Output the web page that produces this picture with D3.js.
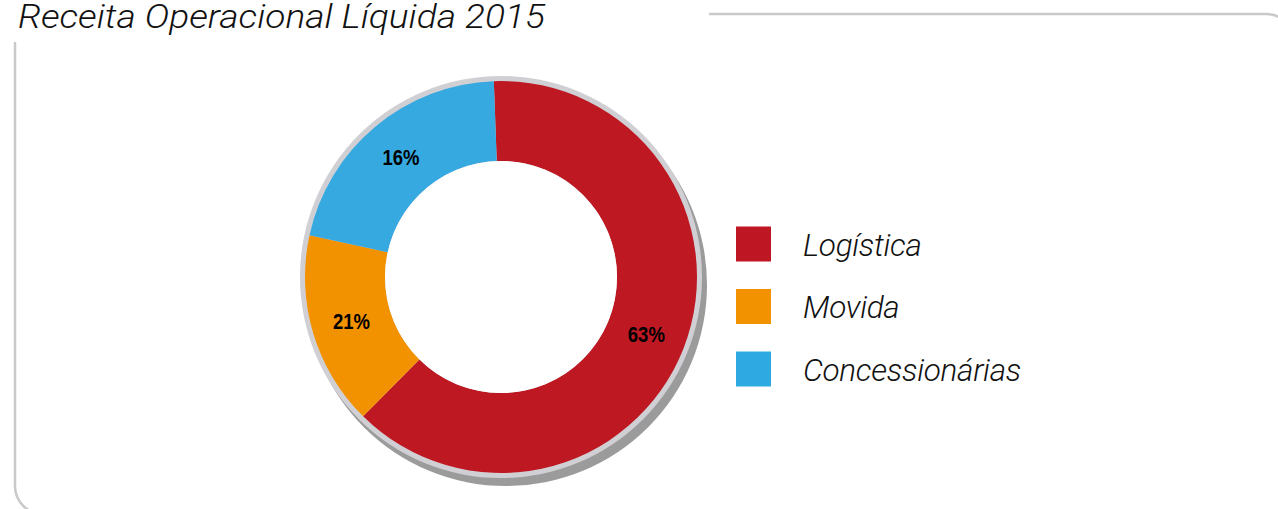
<!DOCTYPE html>
<html>
<head>
<meta charset="utf-8">
<script src="https://cdn.jsdelivr.net/npm/d3@7"></script>
<style>
  html, body { margin: 0; padding: 0; background: #fff; }
  svg { display: block; }
</style>
</head>
<body>
<div id="chart"></div>
<script>
// Data
var categories = ['Logística', 'Movida', 'Concessionárias'];
// slice sizes as drawn (the printed labels of the two small slices are swapped in the original)
var sliceValues = [63, 16, 21];
var sliceLabels = ['63%', '21%', '16%'];
var colors = ['#be1823', '#f39200', '#36a9e1'];
var legendColors = ['#be1622', '#f39200', '#2fa9e1'];
var title = 'Receita Operacional Líquida 2015';

var W = 1278, H = 509;
var svg = d3.select('#chart').append('svg').attr('width', W).attr('height', H);

// Frame (rounded box, open behind the title)
var r = 28, fx = 15, fy = 14, fx2 = 1294, fy2 = 514;
svg.append('path')
  .attr('d', 'M' + fx + ',42 V' + (fy2 - r) + ' A' + r + ',' + r + ' 0 0 0 ' + (fx + r) + ',' + fy2 + ' H' + (fx2 - r) +
        ' M709,' + fy + ' H' + (fx2 - r) + ' A' + r + ',' + r + ' 0 0 1 ' + fx2 + ',' + (fy + r) + ' V' + (fy2 - r))
  .attr('fill', 'none').attr('stroke', '#c9c9c9').attr('stroke-width', 2.5);

var textFont = 'Roboto, "Open Sans", sans-serif';

// Title
svg.append('text').attr('x', 18).attr('y', 28)
  .attr('font-family', textFont).attr('font-style', 'italic').attr('font-weight', 300)
  .attr('font-size', 32.5).attr('fill', '#111')
  .attr('textLength', 527).attr('lengthAdjust', 'spacingAndGlyphs')
  .text(title);

// Donut
var cx = 501, cy = 277, outerR = 196, innerR = 116;
var g = svg.append('g').attr('transform', 'translate(' + cx + ',' + cy + ')');

g.append('circle').attr('cx', 5).attr('cy', 8).attr('r', outerR + 5).attr('fill', '#9b9b9b');
g.append('circle').attr('r', outerR + 5).attr('fill', '#d0d0d4');

var startA = -2.1 * Math.PI / 180;
var pie = d3.pie().sort(null).startAngle(startA).endAngle(startA + 2 * Math.PI);
var arcs = pie(sliceValues);
var arc = d3.arc().innerRadius(innerR).outerRadius(outerR);

g.selectAll('path.slice').data(arcs).enter().append('path')
  .attr('class', 'slice')
  .attr('d', arc)
  .attr('fill', function(d, i) { return colors[i]; });

g.append('circle').attr('r', innerR).attr('fill', '#fff');

g.selectAll('text.lbl').data(arcs).enter().append('text')
  .attr('class', 'lbl')
  .attr('transform', function(d) { var c = arc.centroid(d); return 'translate(' + c[0] + ',' + c[1] + ')'; })
  .attr('text-anchor', 'middle').attr('dy', '0.36em')
  .attr('font-family', '"Liberation Sans Narrow", "Liberation Sans", Arial, sans-serif').attr('font-weight', 'bold')
  .attr('font-size', 22).attr('fill', '#000')
  .attr('textLength', 37).attr('lengthAdjust', 'spacingAndGlyphs')
  .text(function(d, i) { return sliceLabels[i]; });

// Legend
var ly = d3.scalePoint().domain(categories).range([244, 369]);
var lg = svg.append('g').selectAll('g').data(categories).enter().append('g')
  .attr('transform', function(d) { return 'translate(736,' + ly(d) + ')'; });
lg.append('rect').attr('x', 0).attr('y', -17.5).attr('width', 35).attr('height', 35)
  .attr('fill', function(d, i) { return legendColors[i]; });
lg.append('text').attr('x', 67).attr('y', 11.5)
  .attr('font-family', textFont).attr('font-style', 'italic').attr('font-weight', 300)
  .attr('font-size', 31.5).attr('letter-spacing', -0.3).attr('fill', '#111')
  .text(function(d) { return d; });
</script>
</body>
</html>
